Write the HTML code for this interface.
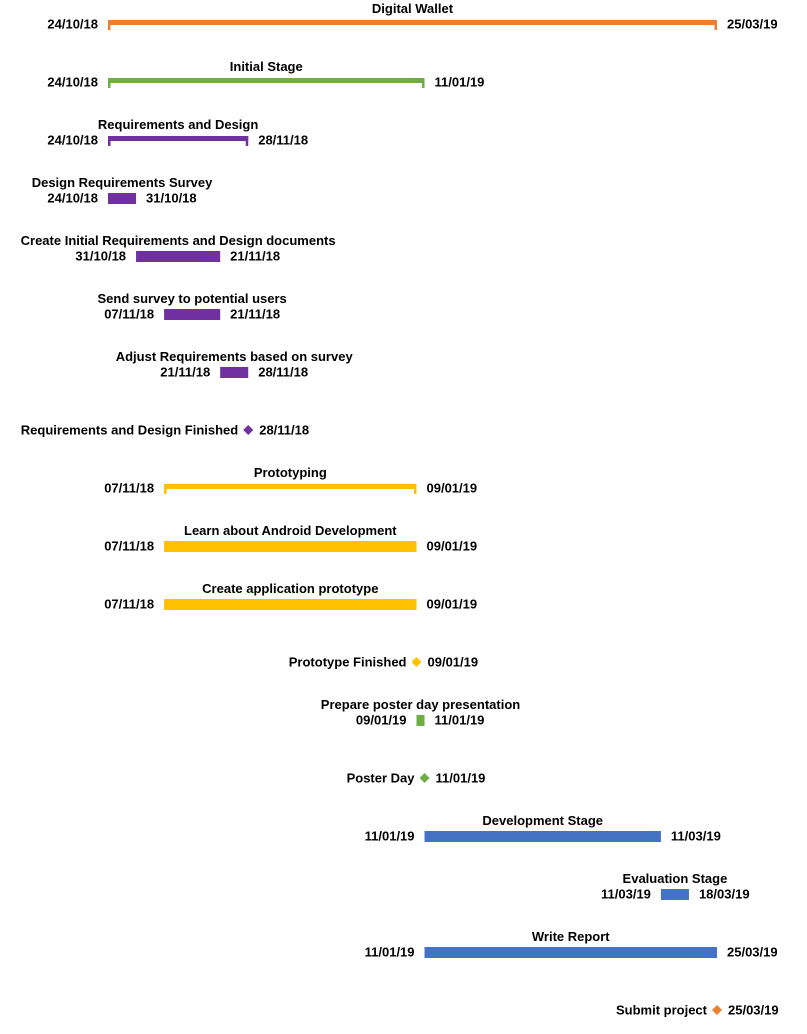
<!DOCTYPE html>
<html><head><meta charset="utf-8">
<style>
html,body{margin:0;padding:0;background:#fff;}
svg{display:block;font-family:"Liberation Sans",sans-serif;font-weight:bold;font-size:13px;}
</style></head>
<body>
<svg id="chart" width="807" height="1034"></svg>
<script>
const taskNames=["Digital Wallet","Initial Stage","Requirements and Design","Design Requirements Survey","Create Initial Requirements and Design documents","Send survey to potential users","Adjust Requirements based on survey","Requirements and Design Finished","Prototyping","Learn about Android Development","Create application prototype","Prototype Finished","Prepare poster day presentation","Poster Day","Development Stage","Evaluation Stage","Write Report","Submit project"];
const taskStarts=["2018-10-24","2018-10-24","2018-10-24","2018-10-24","2018-10-31","2018-11-07","2018-11-21","2018-11-28","2018-11-07","2018-11-07","2018-11-07","2019-01-09","2019-01-09","2019-01-11","2019-01-11","2019-03-11","2019-01-11","2019-03-25"];
const taskEnds=["2019-03-25","2019-01-11","2018-11-28","2018-10-31","2018-11-21","2018-11-21","2018-11-28","2018-11-28","2019-01-09","2019-01-09","2019-01-09","2019-01-09","2019-01-11","2019-01-11","2019-03-11","2019-03-18","2019-03-25","2019-03-25"];
const taskTypes=["summary","summary","summary","task","task","task","task","milestone","summary","task","task","milestone","task","milestone","task","task","task","milestone"];
const taskGroups=[0,1,2,2,2,2,2,2,3,3,3,3,1,1,4,4,4,0];
const palette=["#ED7D31","#70AD47","#7030A0","#FFC000","#4472C4"];
const NS="http://www.w3.org/2000/svg";
const svg=document.getElementById('chart');
const t0=Date.UTC(2018,9,24), t1=Date.UTC(2019,2,25);
function xScale(s){const p=s.split('-');const t=Date.UTC(+p[0],+p[1]-1,+p[2]);return 108+(t-t0)/(t1-t0)*609;}
function fmt(s){const p=s.split('-');return p[2]+'/'+p[1]+'/'+p[0].slice(2);}
function mk(tag,attrs){const e=document.createElementNS(NS,tag);for(const k in attrs)e.setAttribute(k,attrs[k]);svg.appendChild(e);return e;}
function txt(x,y,s,anchor){const e=mk('text',{x:x,y:y,'text-anchor':anchor,'dominant-baseline':'central',fill:'#000'});e.textContent=s;return e;}
taskNames.forEach((n,i)=>{
  const x0=xScale(taskStarts[i]),x1=xScale(taskEnds[i]);const c=palette[taskGroups[i]];
  const base=58*i;
  if(taskTypes[i]==='milestone'){
    const cy=base+24;
    const d=mk('polygon',{points:`${x0},${cy-5} ${x0+5},${cy} ${x0},${cy+5} ${x0-5},${cy}`,fill:c});
    
    
    const l=txt(x0-10,cy,n,'end');
    
    
    const dt=txt(x0+11,cy,fmt(taskStarts[i]),'start');
    
    
    return;
  }
  const g=mk('g',{});
  
  
  if(taskTypes[i]==='summary'){
    const r=document.createElementNS(NS,'rect');r.setAttribute('x',x0);r.setAttribute('y',base+20);r.setAttribute('width',x1-x0);r.setAttribute('height',5);r.setAttribute('fill',c);g.appendChild(r);
    [x0,x1-2.5].forEach(tx=>{const k=document.createElementNS(NS,'rect');k.setAttribute('x',tx);k.setAttribute('y',base+20);k.setAttribute('width',2.5);k.setAttribute('height',10);k.setAttribute('fill',c);g.appendChild(k);});
  } else {
    const r=document.createElementNS(NS,'rect');r.setAttribute('x',x0);r.setAttribute('y',base+19);r.setAttribute('width',Math.max(x1-x0,7));r.setAttribute('height',11);r.setAttribute('fill',c);g.appendChild(r);
  }
  const w=Math.max(x1-x0,7);
  const t=txt(x0+w/2,base+8.5,n,'middle');
  
  
  const sd=txt(x0-10,base+24,fmt(taskStarts[i]),'end');
  
  
  const ed=txt(x0+w+10,base+24,fmt(taskEnds[i]),'start');
  
  
});
</script>
</body></html>
